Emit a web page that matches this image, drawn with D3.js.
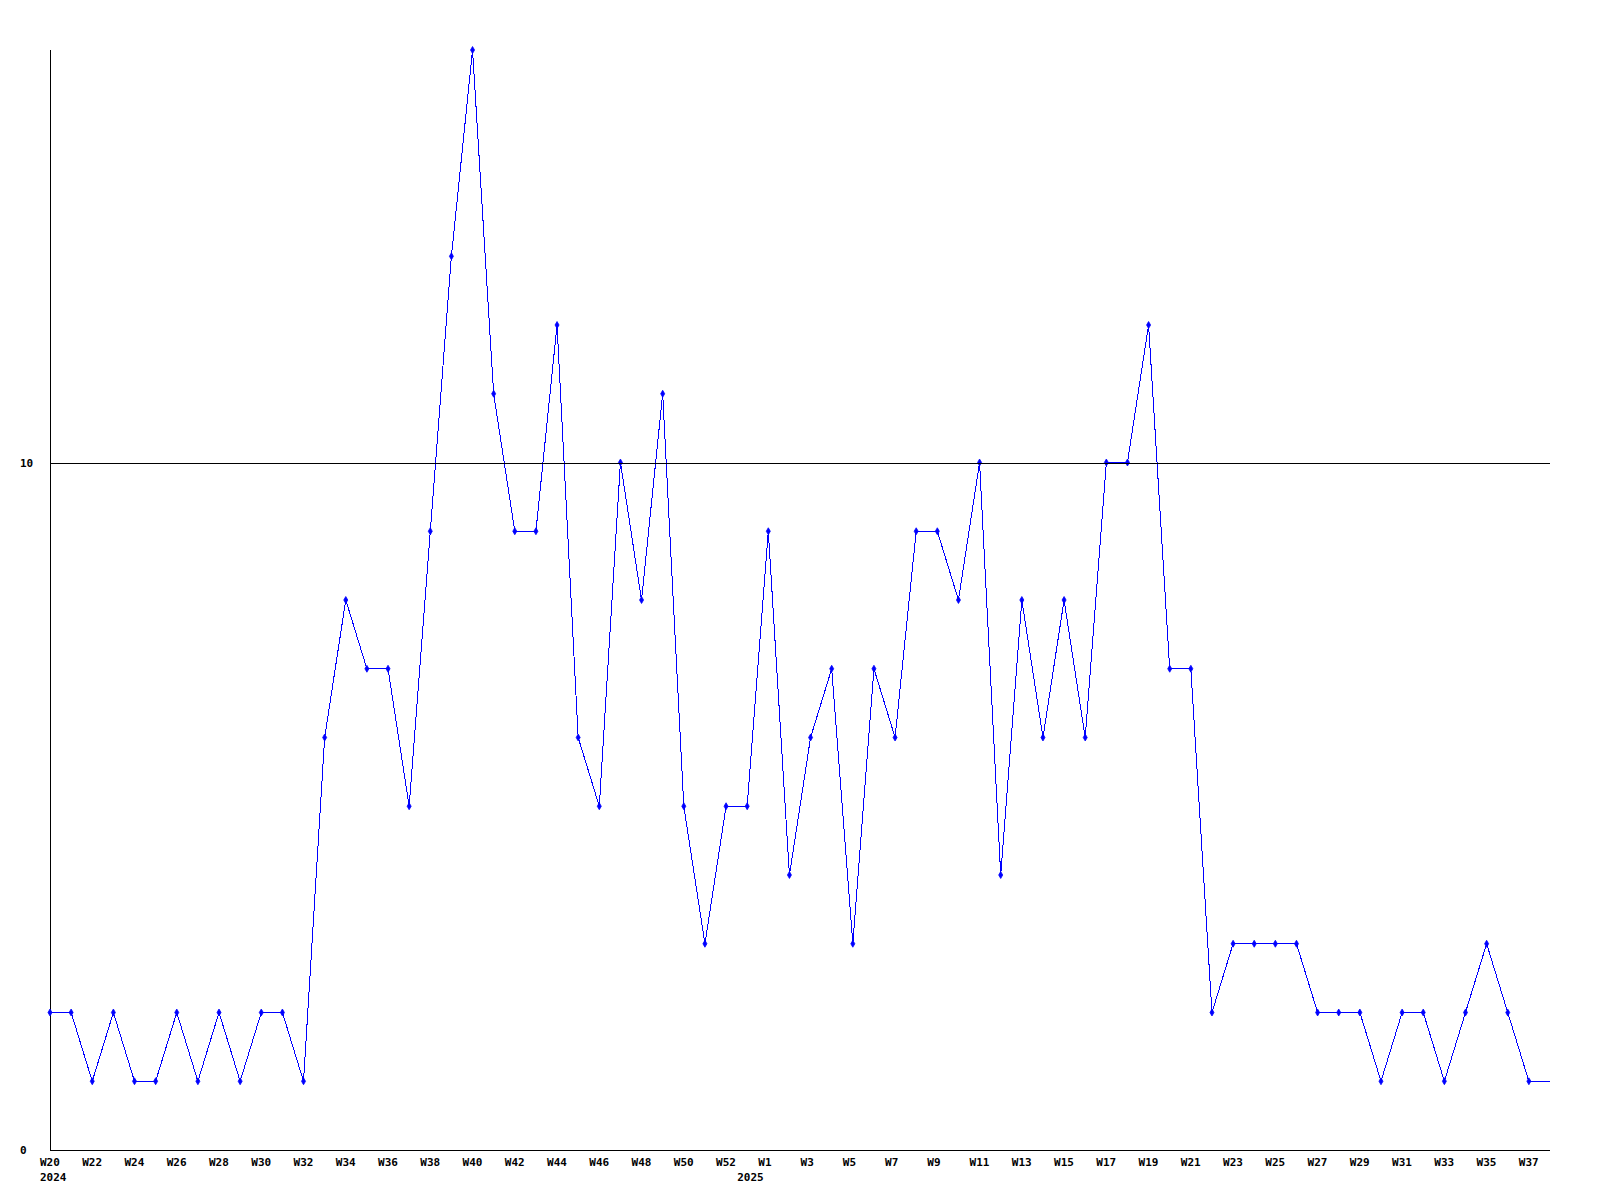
<!DOCTYPE html>
<html>
<head>
<meta charset="utf-8">
<script src="https://cdn.jsdelivr.net/npm/d3@7"></script>
<style>
  body { margin: 0; background: #fff; }
  text { font-family: "DejaVu Sans Mono", monospace; font-weight: bold; font-size: 11px; fill: #000; }
</style>
</head>
<body>
<script>
// weeks, W20 2024 .. W38 2025 (2024 has a W53 bucket here)
const weeks = [
  "W20","W21","W22","W23","W24","W25","W26","W27","W28","W29","W30","W31","W32","W33",
  "W34","W35","W36","W37","W38","W39","W40","W41","W42","W43","W44","W45","W46","W47",
  "W48","W49","W50","W51","W52","W53",
  "W1","W2","W3","W4","W5","W6","W7","W8","W9","W10","W11","W12","W13","W14","W15","W16",
  "W17","W18","W19","W20","W21","W22","W23","W24","W25","W26","W27","W28","W29","W30",
  "W31","W32","W33","W34","W35","W36","W37","W38"
];
const counts = [
  2,2,1,2,1,1,2,1,2,1,2,2,1,6,
  8,7,7,5,9,13,16,11,9,9,12,6,5,10,
  8,11,5,3,5,5,
  9,4,6,7,3,7,6,9,9,8,10,4,8,6,8,6,
  10,10,12,7,7,2,3,3,3,3,2,2,2,1,
  2,2,1,2,3,2,1,1
];
const yearLabels = [ { idx: 0, text: "2024" }, { idx: 33, text: "2025" } ];
const yTicks = [0, 10];

const width = 1600, height = 1200;
const plotLeft = 50, plotRight = 1550, plotTop = 50, plotBottom = 1150;

const svg = d3.select("body").append("svg")
  .attr("width", width)
  .attr("height", height);

const x = d3.scaleLinear().domain([0, weeks.length - 1]).range([plotLeft, plotRight]);
const y = d3.scaleLinear().domain([0, 16]).range([plotBottom, plotTop]);

// axes
svg.append("line")
  .attr("x1", plotLeft + 0.5).attr("x2", plotLeft + 0.5)
  .attr("y1", plotTop).attr("y2", plotBottom)
  .attr("stroke", "#000");
svg.append("line")
  .attr("x1", plotLeft).attr("x2", plotRight)
  .attr("y1", plotBottom + 0.5).attr("y2", plotBottom + 0.5)
  .attr("stroke", "#000");

// y labels
svg.selectAll("text.ylab")
  .data(yTicks)
  .enter().append("text")
  .attr("class", "ylab")
  .attr("x", 20)
  .attr("y", d => y(d) + 4)
  .text(d => d);

// week labels, every other week
svg.selectAll("text.xlab")
  .data(weeks.map((w, i) => ({ w: w, i: i })).filter(d => d.i % 2 === 0))
  .enter().append("text")
  .attr("class", "xlab")
  .attr("x", d => x(d.i) - 10)
  .attr("y", 1166)
  .text(d => d.w);

svg.selectAll("text.year")
  .data(yearLabels)
  .enter().append("text")
  .attr("class", "year")
  .attr("x", d => x(d.idx) - 10)
  .attr("y", 1181)
  .text(d => d.text);

// series
const line = d3.line()
  .x((d, i) => x(i))
  .y(d => y(d));

svg.append("path")
  .attr("d", line(counts))
  .attr("fill", "none")
  .attr("stroke", "#0000ff")
  .attr("stroke-width", 1)
  .attr("shape-rendering", "crispEdges");

// markers (not on the last, partial week)
const marker = d3.symbol().type(d3.symbolDiamond).size(14);
svg.selectAll("path.mark")
  .data(counts.slice(0, counts.length - 1))
  .enter().append("path")
  .attr("class", "mark")
  .attr("d", marker)
  .attr("transform", (d, i) => "translate(" + x(i) + "," + y(d) + ")")
  .attr("fill", "#0000ff")
  .attr("stroke", "#0000ff")
  .attr("stroke-width", 0.8);

// reference line at 10
svg.append("line")
  .attr("x1", plotLeft).attr("x2", plotRight)
  .attr("y1", Math.round(y(10)) + 0.5).attr("y2", Math.round(y(10)) + 0.5)
  .attr("stroke", "#000");
</script>
</body>
</html>
